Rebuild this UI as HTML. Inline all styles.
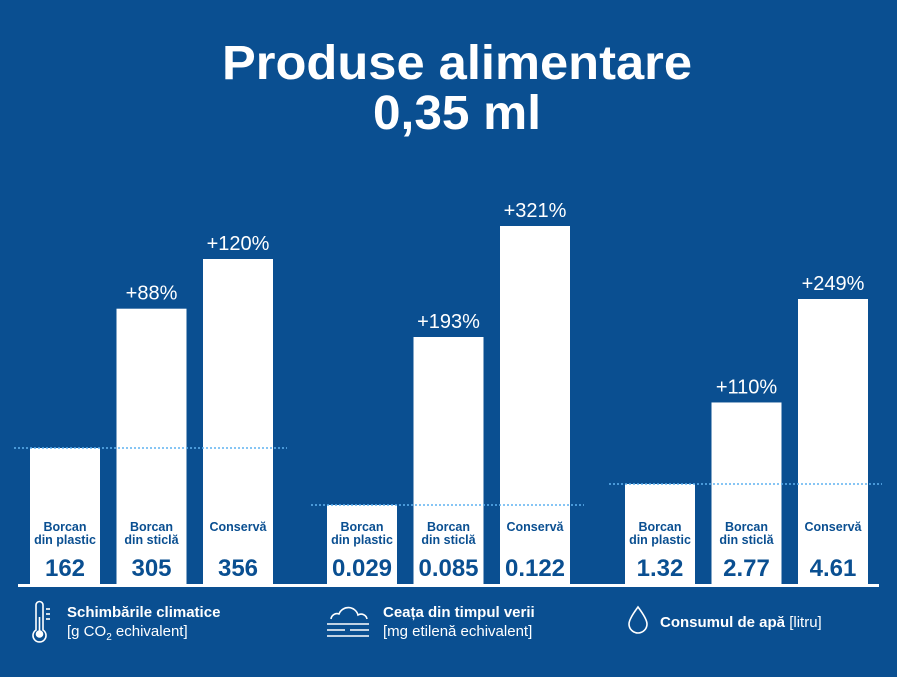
<!DOCTYPE html>
<html><head><meta charset="utf-8">
<style>
html,body{margin:0;padding:0;background:#0a4f91;}
svg{display:block;font-family:"Liberation Sans","DejaVu Sans",sans-serif;}
</style></head>
<body>
<svg id="chart" width="897" height="677" viewBox="0 0 897 677" xmlns="http://www.w3.org/2000/svg">
<rect width="897" height="677" fill="#0a4f91"/>
<text x="457" y="79" text-anchor="middle" fill="#fff" font-size="48" font-weight="bold" textLength="470" lengthAdjust="spacingAndGlyphs">Produse alimentare</text>
<text x="457" y="129" text-anchor="middle" fill="#fff" font-size="48" font-weight="bold" textLength="168" lengthAdjust="spacingAndGlyphs">0,35 ml</text>
<g id="bars"></g>
<line x1="18" y1="585.5" x2="879" y2="585.5" stroke="#fff" stroke-width="3"/>
<g fill="none" stroke="#fff" stroke-width="1.6">
<path d="M36 605 v25 a6.5 6.5 0 1 0 7 0 v-25 a3.5 3.5 0 0 0 -7 0z"/>
<line x1="39.5" y1="617" x2="39.5" y2="632"/><circle cx="39.5" cy="634" r="3" fill="#fff"/>
<line x1="46" y1="609" x2="50" y2="609"/><line x1="46" y1="614" x2="50" y2="614"/><line x1="46" y1="619" x2="50" y2="619"/>
</g>
<text x="67" y="617" fill="#fff" font-size="15" font-weight="bold">Schimbările climatice</text>
<text x="67" y="636" fill="#fff" font-size="15">[g CO<tspan font-size="10" dy="4">2</tspan><tspan dy="-4"> echivalent]</tspan></text>
<g fill="none" stroke="#fff" stroke-width="1.6">
<path d="M331 619 a6 6 0 0 1 8 -5 a10 10 0 0 1 19 1 a6 6 0 0 1 9 4"/>
<line x1="327" y1="624" x2="369" y2="624"/><line x1="327" y1="630" x2="345" y2="630"/><line x1="350" y1="630" x2="369" y2="630"/><line x1="327" y1="636" x2="369" y2="636"/>
</g>
<text x="383" y="617" fill="#fff" font-size="15" font-weight="bold">Ceața din timpul verii</text>
<text x="383" y="636" fill="#fff" font-size="15">[mg etilenă echivalent]</text>
<path d="M638 607 q-9 12 -9 17 a9 9 0 0 0 18 0 q0 -5 -9 -17z" fill="none" stroke="#fff" stroke-width="1.6"/>
<text x="660" y="627" fill="#fff" font-size="15"><tspan font-weight="bold">Consumul de apă</tspan> [litru]</text>
</svg>
<script>
const categories = ["Borcan|din plastic","Borcan|din sticlă","Conservă"];
const climateValues = [162,305,356];
const smogValues = [0.029,0.085,0.122];
const waterValues = [1.32,2.77,4.61];
const climateLabels = ["162","305","356"];
const smogLabels = ["0.029","0.085","0.122"];
const waterLabels = ["1.32","2.77","4.61"];
const climatePct = ["","+88%","+120%"];
const smogPct = ["","+193%","+321%"];
const waterPct = ["","+110%","+249%"];

const NS="http://www.w3.org/2000/svg";
const g=document.getElementById('bars');
const baseY=584;
const groups=[
 {vals:climateValues,labels:climateLabels,pct:climatePct,x0:30,minH:136,maxH:325,name:'climate'},
 {vals:smogValues,labels:smogLabels,pct:smogPct,x0:327,minH:79,maxH:358,name:'smog'},
 {vals:waterValues,labels:waterLabels,pct:waterPct,x0:625,minH:100,maxH:285,name:'water'}
];
function el(t,a){const e=document.createElementNS(NS,t);for(const k in a)e.setAttribute(k,a[k]);return e;}
groups.forEach(gr=>{
 const mx=Math.max(...gr.vals), mn=Math.min(...gr.vals);
 const y=v=>baseY-(gr.minH+(mx===mn?0:(v-mn)/(mx-mn))*(gr.maxH-gr.minH));
 const bx=i=>gr.x0+i*86.5;
 gr.vals.forEach((v,i)=>{
  const r=el('rect',{x:bx(i),y:y(v),width:70,height:baseY-y(v),fill:'#fff'});
  
  
  g.appendChild(r);
  const parts=categories[i].split('|');
  parts.forEach((p,j)=>{
   const t=el('text',{x:bx(i)+35,y:(parts.length==2?531+j*13:531),'text-anchor':'middle',fill:'#0a4f91','font-size':'12.5','font-weight':'bold'});
   t.textContent=p;
   
   
   g.appendChild(t);
  });
  const vt=el('text',{x:bx(i)+35,y:576,'text-anchor':'middle',fill:'#0a4f91','font-size':'24','font-weight':'bold'});
  vt.textContent=gr.labels[i];
  
  
  g.appendChild(vt);
  if(gr.pct[i]){
   const pt=el('text',{x:bx(i)+35,y:y(v)-9,'text-anchor':'middle',fill:'#fff','font-size':'20'});
   pt.textContent=gr.pct[i];
   
   
   g.appendChild(pt);
  }
 });
 const ry=y(gr.vals[0]);
 const ln=el('line',{x1:gr.x0-16,y1:ry,x2:gr.x0+257,y2:ry,stroke:'#5fb2f0','stroke-width':'1.5','stroke-dasharray':'2 2'});
 
 
 g.appendChild(ln);
});
</script>
</body></html>
